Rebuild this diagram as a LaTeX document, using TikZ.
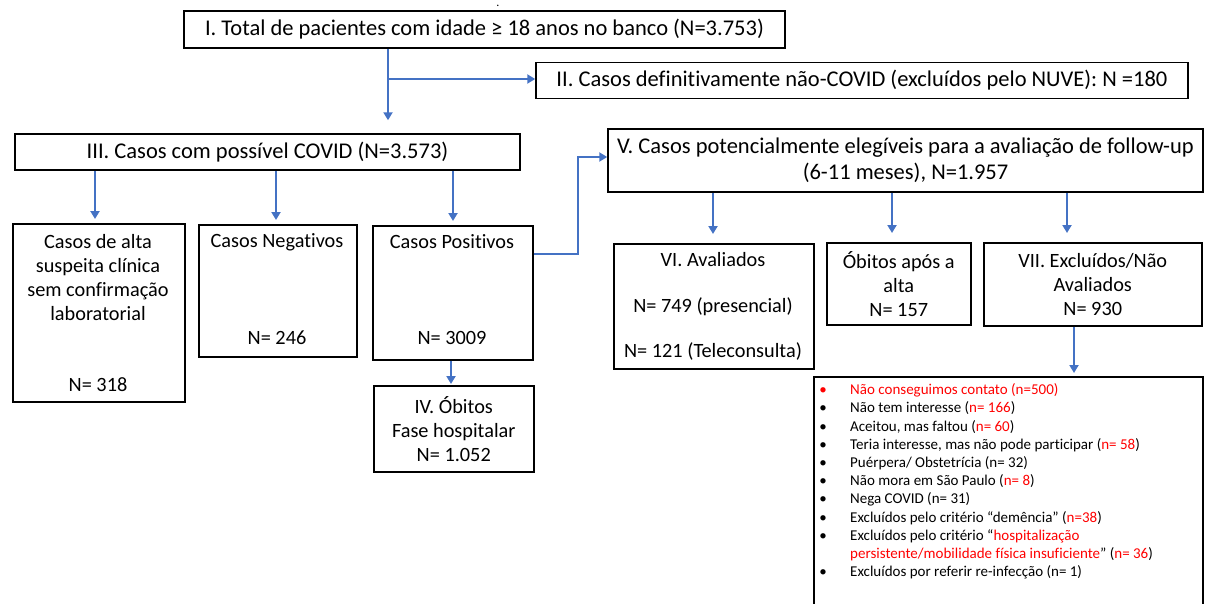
\documentclass[tikz,border=0pt]{standalone}
\usepackage{fontspec}
\setmainfont[Ligatures=NoCommon]{Carlito}
\usetikzlibrary{arrows.meta}
\definecolor{arrblue}{RGB}{68,114,196}
\definecolor{lred}{RGB}{255,0,0}
\begin{document}
\begin{tikzpicture}[x=1pt,y=-1pt,
  box/.style={draw, line width=1.5pt, inner sep=0pt},
  arr/.style={draw=arrblue, line width=2.4pt, -{Triangle[length=8pt,width=9pt]}},
  txt/.style={font=\fontsize{22.5}{24}\selectfont, align=center, inner sep=0pt},
  txs/.style={font=\fontsize{20.3}{24}\selectfont, align=center, inner sep=0pt},
  li/.style={font=\fontsize{15}{16}\selectfont, anchor=west, inner sep=0pt, text height=10.5pt, text depth=3.3pt},
  bul/.style={font=\fontsize{15}{16}\selectfont, anchor=center, inner sep=0pt, text height=10.5pt, text depth=3.3pt}]
\useasboundingbox (0,0) rectangle (1214,603);

% stray dot
\node[inner sep=0.5pt, font=\fontsize{12}{12}\selectfont] (dot) at (498,6) {.};

% boxes
\node[box, txt, minimum width=601pt, minimum height=37pt] (i) at (484.5,29.5)
  {I. Total de pacientes com idade ≥ 18 anos no banco (N=3.753)};
\node[box, txt, minimum width=652pt, minimum height=36pt] (ii) at (862,80.5)
  {II. Casos definitivamente não-COVID (excluídos pelo NUVE): N =180};
\node[box, txt, minimum width=505pt, minimum height=36pt] (iii) at (267.5,152)
  {III. Casos com possível COVID (N=3.573)};
\node[box, txt, font=\fontsize{22.5}{26}\selectfont, minimum width=595pt, minimum height=63pt] (v) at (905.5,160.5)
  {V. Casos potencialmente elegíveis para a avaliação de follow-up\\(6-11 meses), N=1.957};

\node[box, minimum width=172pt, minimum height=178pt, anchor=north west] (alta) at (12,223) {};
\node[txs] (alta-t) at (98,277.5) {Casos de alta\\suspeita clínica\\sem confirmação\\laboratorial};
\node[txs] (alta-n) at (98,385) {N= 318};

\node[box, minimum width=158pt, minimum height=132pt, anchor=north west] (neg) at (198,224) {};
\node[txs] (neg-t) at (277,242) {Casos Negativos};
\node[txs] (neg-n) at (277,338) {N= 246};

\node[box, minimum width=160pt, minimum height=134pt, anchor=north west] (pos) at (372,225) {};
\node[txs] (pos-t) at (452,242) {Casos Positivos};
\node[txs] (pos-n) at (452,338) {N= 3009};

\node[box, txs, minimum width=160pt, minimum height=86pt, anchor=north west] (iv) at (373,385)
  {IV. Óbitos\\Fase hospitalar\\N= 1.052};

\node[box, minimum width=200pt, minimum height=125pt, anchor=north west] (vi) at (613,243) {};
\node[txs] (vi-t) at (713,260) {VI. Avaliados};
\node[txs] (vi-a) at (713,307) {N= 749 (presencial)};
\node[txs] (vi-b) at (713,351) {N= 121 (Teleconsulta)};

\node[box, txs, minimum width=144pt, minimum height=82pt, anchor=north west] (ob) at (826,242)
  {Óbitos após a\\alta\\N= 157};
\node[box, txs, minimum width=218pt, minimum height=83pt, anchor=north west] (vii) at (983,242)
  {VII. Excluídos/Não\\Avaliados\\N= 930};

\node[box, minimum width=389pt, minimum height=260pt, anchor=north west] (list) at (813,376) {};

% list items
\foreach \k/\y in {1/391,2/409.2,3/427.4,4/445.6,5/463.8,6/482,7/500.2,8/518.4,9/536.6,11/573}{
  \node[bul] (b\k) at (823,\y) {\ifnum\k=1 \color{lred}\fi •};
}
\node[li, text=lred] (l1) at (850,391) {Não conseguimos contato (n=500)};
\node[li] (l2) at (850,409.2) {Não tem interesse (\textcolor{lred}{n= 166})};
\node[li] (l3) at (850,427.4) {Aceitou, mas faltou (\textcolor{lred}{n= 60})};
\node[li] (l4) at (850,445.6) {Teria interesse, mas não pode participar (\textcolor{lred}{n= 58})};
\node[li] (l5) at (850,463.8) {Puérpera/ Obstetrícia (n= 32)};
\node[li] (l6) at (850,482) {Não mora em São Paulo (\textcolor{lred}{n= 8})};
\node[li] (l7) at (850,500.2) {Nega COVID (n= 31)};
\node[li] (l8) at (850,518.4) {Excluídos pelo critério “demência” (\textcolor{lred}{n=38})};
\node[li] (l9) at (850,536.6) {Excluídos pelo critério “\textcolor{lred}{hospitalização}};
\node[li] (l10) at (850,554.8) {\textcolor{lred}{persistente/mobilidade física insuficiente}” (\textcolor{lred}{n= 36})};
\node[li] (l11) at (850,573) {Excluídos por referir re-infecção (n= 1)};

% connector helper coordinates
\coordinate (c1) at (388,0);
\coordinate (b1) at (388,79);
\coordinate (cA) at (95,0);
\coordinate (cN) at (276,0);
\coordinate (cP) at (453,0);
\coordinate (c4) at (451,0);
\coordinate (p1) at (0,254);
\coordinate (k1) at (578,0);
\coordinate (v1) at (0,157);
\coordinate (cV1) at (713,0);
\coordinate (cV2) at (892,0);
\coordinate (cV3) at (1067,0);
\coordinate (c7) at (1074,0);

% connectors
\draw[arr, shorten >=13pt] (i.south -| c1) -- (iii.north -| c1);
\draw[arr] (b1) -- (ii.west |- b1);
\draw[arr, shorten >=4pt] (iii.south -| cA) -- (alta.north -| cA);
\draw[arr, shorten >=4pt] (iii.south -| cN) -- (neg.north -| cN);
\draw[arr, shorten >=4pt] (iii.south -| cP) -- (pos.north -| cP);
\draw[arr, shorten >=1pt] (pos.south -| c4) -- (iv.north -| c4);
\draw[arr] (pos.east |- p1) -| (k1 |- v1) -- (v.west |- v1);
\draw[arr, shorten >=9pt] (v.south -| cV1) -- (vi.north -| cV1);
\draw[arr, shorten >=9pt] (v.south -| cV2) -- (ob.north -| cV2);
\draw[arr, shorten >=9pt] (v.south -| cV3) -- (vii.north -| cV3);
\draw[arr, shorten >=3pt] (vii.south -| c7) -- (list.north -| c7);
\end{tikzpicture}
\end{document}
